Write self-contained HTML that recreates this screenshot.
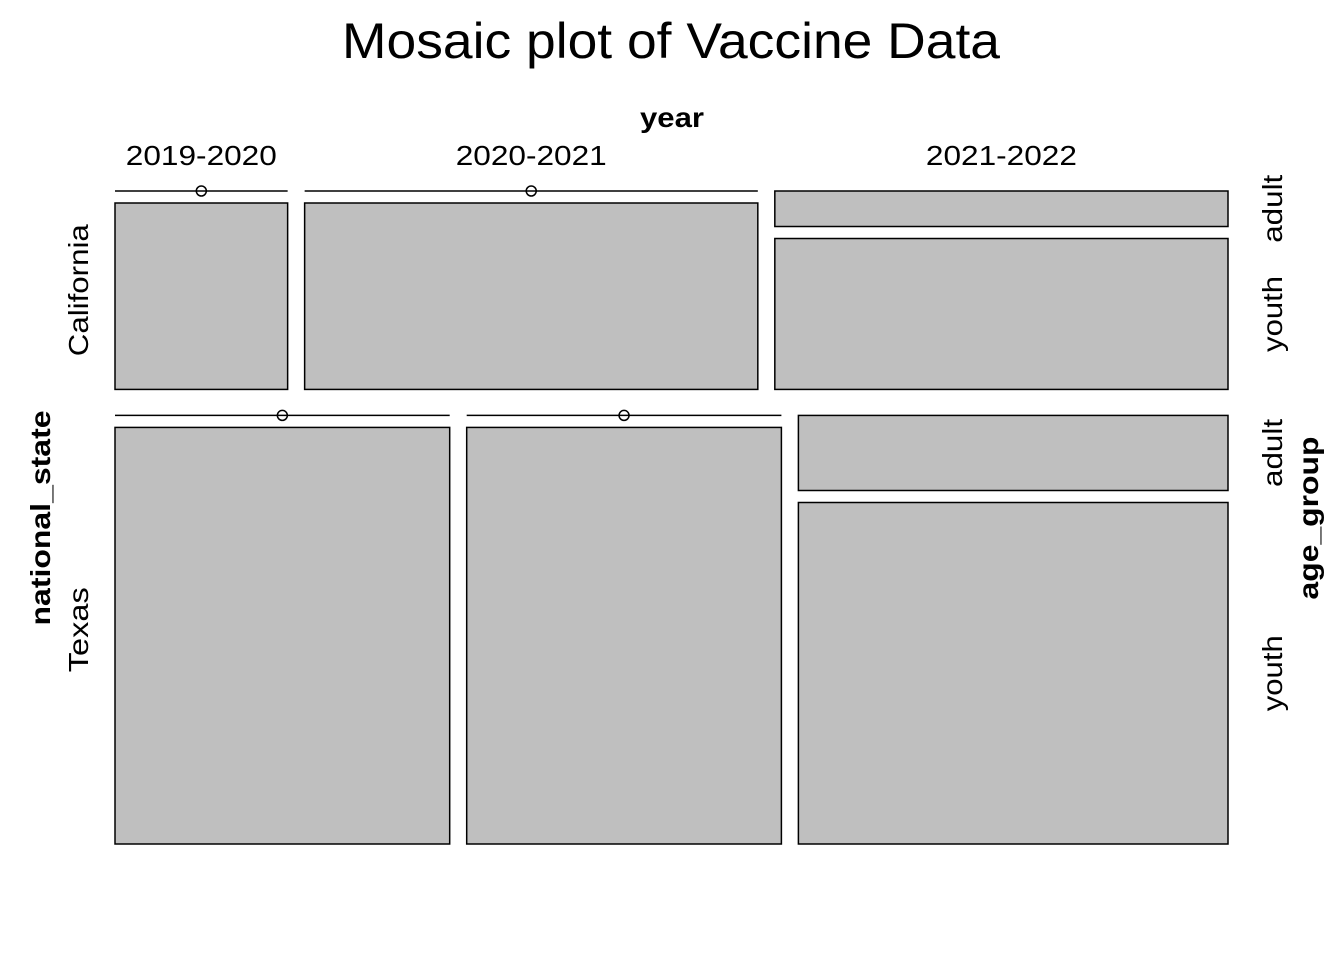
<!DOCTYPE html>
<html><head><meta charset="utf-8"><style>
html,body{margin:0;padding:0;background:#fff;}
svg{display:block;font-family:"Liberation Sans",Arial,sans-serif;}
</style></head><body>
<svg id="chart" width="1344" height="960" viewBox="0 0 1344 960">
<text x="671" y="58" font-size="50" text-anchor="middle" textLength="658" lengthAdjust="spacingAndGlyphs">Mosaic plot of Vaccine Data</text>
<text x="672" y="127" font-size="28" font-weight="bold" text-anchor="middle" textLength="64" lengthAdjust="spacingAndGlyphs">year</text>
<text transform="translate(50,518) rotate(-90)" font-size="28" font-weight="bold" text-anchor="middle" textLength="215" lengthAdjust="spacingAndGlyphs">national_state</text>
<text transform="translate(1318,518) rotate(-90)" font-size="28" font-weight="bold" text-anchor="middle" textLength="163" lengthAdjust="spacingAndGlyphs">age_group</text>
<g id="marks"></g>
</svg>
<script>
const states = ["California", "Texas"];
const years = ["2019-2020", "2020-2021", "2021-2022"];
const ages = ["adult", "youth"];
const adultCounts = [[0, 0, 8], [0, 0, 15.5]];
const youthCounts = [[16, 42, 34], [67, 63, 70.5]];

const NS = "http://www.w3.org/2000/svg";
const g = document.getElementById("marks");
const X0 = 115, X1 = 1228, Y0 = 191, Y1 = 844, GAPR = 26, GAPC = 17, GAPA = 12;
const lens = { "California": 132, "Texas": 85, "adult": 68, "youth": 76, "2019-2020": 151, "2020-2021": 151, "2021-2022": 151 };
function mk(tag, attrs) { const e = document.createElementNS(NS, tag); for (const k in attrs) e.setAttribute(k, attrs[k]); g.appendChild(e); return e; }

const stateTot = states.map((s, i) => years.reduce((a, y, j) => a + adultCounts[i][j] + youthCounts[i][j], 0));
const grand = stateTot[0] + stateTot[1];
const availH = (Y1 - Y0) - GAPR * (states.length - 1);
let yCur = Y0;
states.forEach((s, i) => {
  const rh = availH * stateTot[i] / grand;
  const lab = mk("text", { transform: `translate(88,${yCur + rh / 2}) rotate(-90)`, "font-size": 28, "text-anchor": "middle", textLength: lens[s], lengthAdjust: "spacingAndGlyphs" });
  
  
  lab.textContent = s;
  const availW = (X1 - X0) - GAPC * (years.length - 1);
  let xCur = X0;
  years.forEach((y, j) => {
    const a = adultCounts[i][j], yo = youthCounts[i][j], t = a + yo;
    const w = availW * t / stateTot[i];
    if (i === 0) {
      const yl = mk("text", { x: xCur + w / 2, y: 165, "font-size": 28, "text-anchor": "middle", textLength: lens[y], lengthAdjust: "spacingAndGlyphs" });
      
      
      yl.textContent = y;
    }
    const ah = (rh - GAPA) * a / t, yh = (rh - GAPA) * yo / t;
    const segs = [[a, ah, "adult"], [yo, yh, "youth"]];
    let sy = yCur;
    segs.forEach(([c, h, name]) => {
      if (c === 0) {
        const ln = mk("line", { x1: xCur, x2: xCur + w, y1: sy, y2: sy, stroke: "#000", "stroke-width": 1.5 });
        
        
        const ci = mk("circle", { cx: xCur + w / 2, cy: sy, r: 5, fill: "none", stroke: "#000", "stroke-width": 1.5 });
        
        
      } else {
        const r = mk("rect", { x: xCur, y: sy, width: w, height: h, fill: "#bfbfbf", stroke: "#000", "stroke-width": 1.5 });
        
        
      }
      if (j === years.length - 1) {
        const al = mk("text", { transform: `translate(1282,${sy + h / 2}) rotate(-90)`, "font-size": 28, "text-anchor": "middle", textLength: lens[name], lengthAdjust: "spacingAndGlyphs" });
        
        
        al.textContent = name;
      }
      sy += h + GAPA;
    });
    xCur += w + GAPC;
  });
  yCur += rh + GAPR;
});
</script>
</body></html>
